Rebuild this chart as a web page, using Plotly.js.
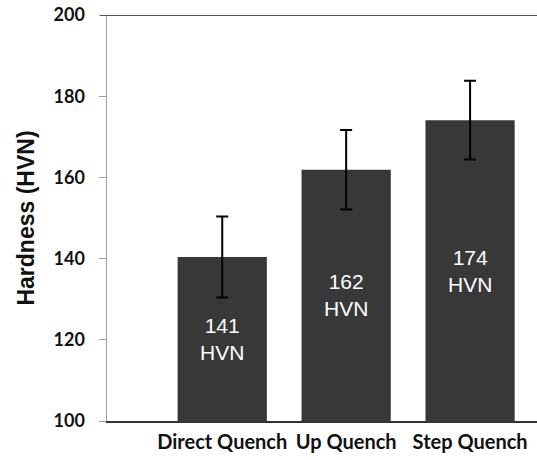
<!DOCTYPE html>
<html>
<head>
<meta charset="utf-8">
<script src="https://cdn.plot.ly/plotly-3.0.1.min.js"></script>
<style>html,body{margin:0;padding:0;background:#fff;}#chart{width:537px;height:460px;}</style>
</head>
<body>
<div id="chart"></div>
<script>
const categories = ["Direct Quench", "Up Quench", "Step Quench"];
const hardness = [140.4, 161.9, 174.1];
const errors = [10, 9.8, 9.7];
const barLabels = ["141<br>HVN", "162<br>HVN", "174<br>HVN"];
const yTicks = [100, 120, 140, 160, 180, 200];
const yMin = 100, yMax = 200;

const trace = {
  type: "bar",
  x: categories,
  y: hardness,
  marker: {color: "#383838", line: {width: 0}},
  width: 0.72,
  error_y: {type: "data", array: errors, visible: true, color: "#000000", thickness: 2, width: 6},
  hoverinfo: "none"
};

const annotations = categories.map((c, i) => ({
  x: c, y: (yMin + hardness[i]) / 2, xref: "x", yref: "y",
  text: barLabels[i], showarrow: false,
  font: {family: "Liberation Sans, Arial, sans-serif", size: 21, color: "#ffffff"},
  align: "center", xanchor: "center", yanchor: "middle"
}));

const layout = {
  width: 537, height: 460,
  margin: {l: 107, r: 0, t: 15, b: 39},
  paper_bgcolor: "#ffffff", plot_bgcolor: "#ffffff",
  showlegend: false,
  xaxis: {
    type: "category",
    range: [-0.93, 2.54],
    showline: true, linecolor: "#333333", linewidth: 2,
    ticks: "", showgrid: false, zeroline: false,
    ticklabelstandoff: 2,
    tickfont: {family: "Lato, sans-serif", size: 20, color: "#111111", weight: "bold"}
  },
  yaxis: {
    range: [yMin, yMax],
    tickvals: yTicks,
    ticktext: yTicks.map(String),
    showline: true, linecolor: "#a0a0a0", linewidth: 1.5,
    ticks: "outside", ticklen: 7, tickcolor: "#a0a0a0", tickwidth: 1,
    ticklabelstandoff: 10,
    showgrid: false, zeroline: false,
    tickfont: {family: "Lato, sans-serif", size: 18, color: "#111111", weight: "bold"},
    title: {text: "Hardness (HVN)", standoff: 12,
      font: {family: "Liberation Sans, Arial, sans-serif", size: 23, color: "#111111", weight: "bold"}}
  },
  annotations: annotations,
  shapes: [{type: "line", xref: "paper", yref: "y", x0: -0.016, x1: 1, y0: yMax, y1: yMax,
    line: {color: "#555555", width: 2}}]
};

Plotly.newPlot("chart", [trace], layout, {displayModeBar: false, staticPlot: true});
</script>
</body>
</html>
